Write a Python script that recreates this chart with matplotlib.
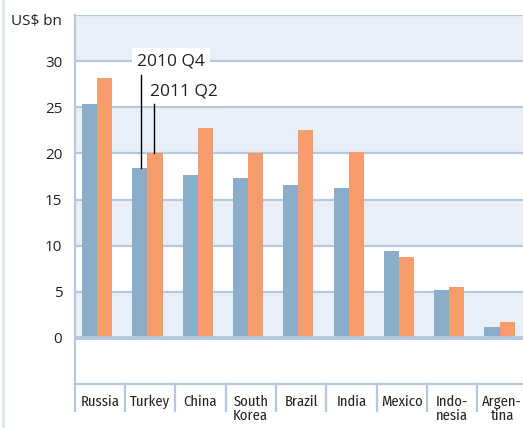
import matplotlib
matplotlib.use('Agg')
import matplotlib.pyplot as plt
from matplotlib.lines import Line2D
import matplotlib.transforms as mtransforms

countries = ['Russia', 'Turkey', 'China', 'South\nKorea', 'Brazil', 'India', 'Mexico', 'Indo-\nnesia', 'Argen-\ntina']
q4_2010 = [25.3, 18.4, 17.7, 17.3, 16.6, 16.2, 9.45, 5.2, 1.2]
q2_2011 = [28.2, 20.05, 22.8, 20.05, 22.5, 20.2, 8.8, 5.5, 1.75]
yticks = [0, 5, 10, 15, 20, 25, 30]

BLUE = '#8badca'
ORANGE = '#f79c6c'
BAND = '#e9eff7'
GRID = '#b6c7e1'
TXT = '#222222'
SHIFT = 0.054  # category cells sit slightly right of the bars
W = 0.3

plt.rcParams['font.family'] = ['Open Sans', 'DejaVu Sans']

fig = plt.figure(figsize=(5.23, 4.28), dpi=100)
fig.patch.set_facecolor('white')
ax = fig.add_axes([74.7/523, (428-384)/428, (527.4-74.7)/523, (384-15)/428])
ax.set_facecolor('white')

# alternating bands: shaded 30-35, 20-25, 10-15, 0-5
for lo in [0, 10, 20, 30]:
    ax.axhspan(lo, lo + 5, facecolor=BAND, edgecolor='none', zorder=0)
for lo in [-5, 5, 15, 25]:
    ax.axhspan(lo, lo + 5, facecolor='white', edgecolor='none', zorder=0)
for y in range(5, 36, 5):
    ax.axhline(y, color=GRID, lw=1.6, zorder=1)
ax.axhline(0, color=GRID, lw=2.8, zorder=3)

x = list(range(len(countries)))
ax.bar([i - W/2 for i in x], q4_2010, W, color=BLUE, zorder=2)
ax.bar([i + W/2 for i in x], q2_2011, W, color=ORANGE, zorder=2)

ax.set_xlim(-0.5 + SHIFT, len(countries) - 0.5 + SHIFT)
ax.set_ylim(-5, 35)
ax.set_yticks(yticks)
ax.set_yticklabels([str(v) for v in yticks], fontsize=11, color=TXT)
ax.tick_params(axis='y', length=0, pad=9)
ax.set_xticks([])
ax.spines['right'].set_visible(False)
ax.spines['top'].set_visible(False)
for s in ['left', 'bottom']:
    ax.spines[s].set_color(GRID)
    ax.spines[s].set_linewidth(1.6)

# category separators and labels below the plot
trans = mtransforms.blended_transform_factory(ax.transData, ax.transAxes)
for i in range(len(countries) + 1):
    ax.plot([i - 0.5 + SHIFT] * 2, [0, -0.072], transform=trans, color=GRID,
            lw=1.6, clip_on=False)
for i, name in enumerate(countries):
    ax.text(i + SHIFT, -0.03, name, transform=trans, ha='center', va='top',
            fontsize=10.5, color=TXT, family=['Fira Sans Condensed', 'DejaVu Sans'],
            linespacing=0.95)

# unit label
fig.text(62/523, 1 - 22/428, 'US$ bn', ha='right', va='center', fontsize=11, color=TXT)

# series labels with leader lines
ax.text(1.468, 30.0, '2010 Q4', ha='center', va='center', fontsize=12.5, color=TXT,
        fontweight='medium', zorder=5,
        bbox=dict(boxstyle='square,pad=0.3', fc='white', ec='none'))
ax.text(1.717, 26.7, '2011 Q2', ha='center', va='center', fontsize=12.5, color=TXT,
        fontweight='medium', zorder=5,
        bbox=dict(boxstyle='square,pad=0.35', fc='white', ec='none'))
ax.plot([1 - 0.12, 1 - 0.12], [28.5, q4_2010[1]], color='black', lw=1, zorder=6)
ax.plot([1 + 0.14, 1 + 0.14], [25.3, q2_2011[1]], color='black', lw=1, zorder=6)

fig.add_artist(Line2D([2.5/523, 2.5/523], [0, 1], color='#dce5f1', lw=2))

fig.savefig('out.png', dpi=100)
